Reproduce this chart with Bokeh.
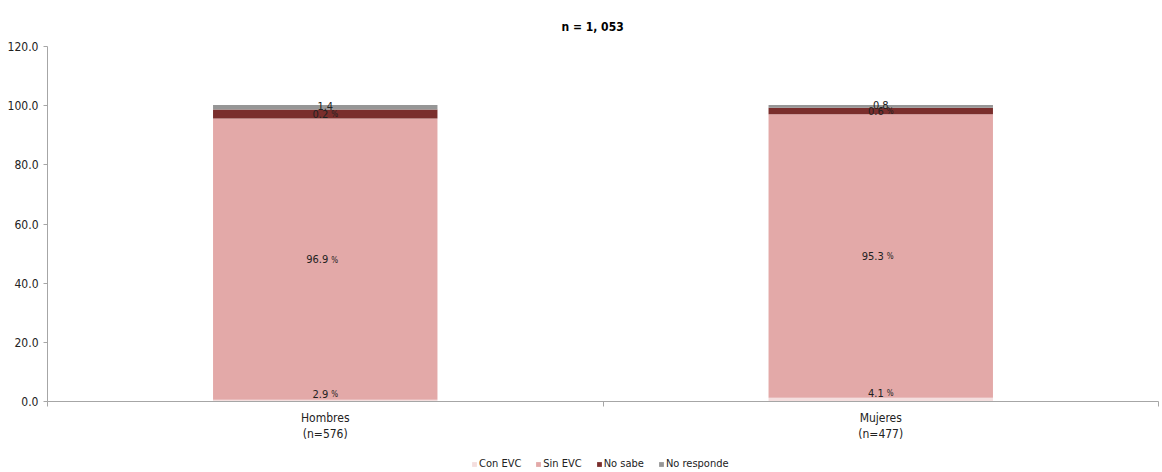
from bokeh.plotting import figure
from bokeh.models import (ColumnDataSource, Range1d, FixedTicker, Legend,
                          NumeralTickFormatter)
from bokeh.layouts import column
from bokeh.core.properties import value
from bokeh.embed import file_html
from bokeh.resources import INLINE
import numpy as np

FONT = "DejaVu Sans Condensed"

categories = ["Hombres\n(n=576)", "Mujeres\n(n=477)"]
series = ["Con EVC", "Sin EVC", "No sabe", "No responde"]
colors = ["#F4DEDE", "#E3A9A8", "#7A2E2C", "#969696"]

# segment heights as drawn
con_evc = [0.6, 1.3]
sin_evc = [95.1, 95.8]
no_sabe = [3.0, 2.2]
no_responde = [1.5, 0.9]

# data-label texts as printed
lbl_con_evc = ["2.9", "4.1"]
lbl_sin_evc = ["96.9", "95.3"]
lbl_no_sabe = ["0.2", "0.6"]
lbl_no_responde = ["1.4", "0.8"]

title_text = "n =  1, 053"

xs = [0.5, 1.5]
vals = [con_evc, sin_evc, no_sabe, no_responde]
labels = [lbl_con_evc, lbl_sin_evc, lbl_no_sabe, lbl_no_responde]
has_pct = [True, True, True, False]

data = {"x": xs}
for s, v in zip(series, vals):
    data[s] = v
src = ColumnDataSource(data)

p = figure(frame_width=1111, frame_height=355, output_backend="svg",
           toolbar_location=None,
           x_range=Range1d(0, 2), y_range=Range1d(0, 120),
           min_border_left=47, min_border_right=2, min_border_top=46,
           min_border_bottom=45)
p.outline_line_color = None
p.xgrid.grid_line_color = None
p.ygrid.grid_line_color = None

p.title.text = title_text
p.title.align = "left"
p.title.offset = 514
p.title.standoff = 26
p.title.text_font = FONT
p.title.text_font_size = "12px"
p.title.text_font_style = "bold"
p.title.text_color = "#000000"

rs = p.vbar_stack(series, x="x", width=0.404, color=colors, source=src,
                  line_color=None)

# data labels
cum = np.zeros(len(xs))
for i, (v, lab) in enumerate(zip(vals, labels)):
    v = np.array(v, dtype=float)
    centers = cum + v / 2
    cum = cum + v
    yoff = -7 if i == 0 else 0
    if has_pct[i]:
        ls = ColumnDataSource(dict(x=xs, y=centers, t=lab, pc=["%"] * len(xs)))
        p.text(x="x", y="y", text="t", source=ls, text_align="right",
               text_baseline="middle", x_offset=3, y_offset=yoff,
               text_font=value(FONT), text_font_size="11px", text_color="#222222")
        p.text(x="x", y="y", text="pc", source=ls, text_align="left",
               text_baseline="middle", x_offset=6, y_offset=yoff + 1,
               text_font=value(FONT), text_font_size="8px", text_color="#222222")
    else:
        ls = ColumnDataSource(dict(x=xs, y=centers, t=lab))
        p.text(x="x", y="y", text="t", source=ls, text_align="center",
               text_baseline="middle", y_offset=-1,
               text_font=value(FONT), text_font_size="11px", text_color="#222222")

# axes
ax = p.xaxis[0]
ax.ticker = FixedTicker(ticks=xs, minor_ticks=[0, 1, 2])
ax.major_label_overrides = {xs[i]: categories[i] for i in range(len(xs))}
ax.major_tick_line_color = None
ax.minor_tick_in = 0
ax.minor_tick_out = 5
ax.minor_tick_line_color = "#a6a6a6"
ax.axis_line_color = "#a6a6a6"
ax.major_label_text_font = FONT
ax.major_label_text_font_size = "12px"
ax.major_label_text_color = "#222222"
ax.major_label_standoff = 3

ay = p.yaxis[0]
ay.ticker = FixedTicker(ticks=[0, 20, 40, 60, 80, 100, 120])
ay.formatter = NumeralTickFormatter(format="0.0")
ay.minor_tick_line_color = None
ay.major_tick_in = 0
ay.major_tick_out = 4
ay.major_tick_line_color = "#a6a6a6"
ay.axis_line_color = "#a6a6a6"
ay.major_label_text_font = FONT
ay.major_label_text_font_size = "12px"
ay.major_label_text_color = "#222222"
ay.major_label_standoff = 5

# legend strip below the chart (swatch renderers sit outside the visible range)
lg = figure(width=1160, height=24, output_backend="svg", toolbar_location=None,
            x_range=Range1d(0, 1), y_range=Range1d(0, 1),
            min_border_left=0, min_border_right=0, min_border_top=0,
            min_border_bottom=0)
lg.axis.visible = False
lg.xgrid.grid_line_color = None
lg.ygrid.grid_line_color = None
lg.outline_line_color = None
swatch = ColumnDataSource(dict(x=[-10.0], top=[-10.0]))
lrs = [lg.vbar(x="x", top="top", bottom=-11, width=0.1, color=c,
               line_color=None, source=swatch) for c in colors]
legend = Legend(items=[(s, [r]) for s, r in zip(series, lrs)],
                orientation="horizontal", location=(424, 0),
                label_text_font=FONT, label_text_font_size="11px",
                label_text_color="#222222", glyph_width=6, glyph_height=6,
                label_standoff=2, spacing=14, padding=2, margin=0,
                label_height=10, border_line_color=None,
                background_fill_alpha=0)
lg.add_layout(legend, "center")

layout = column(p, lg, spacing=0)
open("out.html", "w").write(file_html(layout, INLINE))
